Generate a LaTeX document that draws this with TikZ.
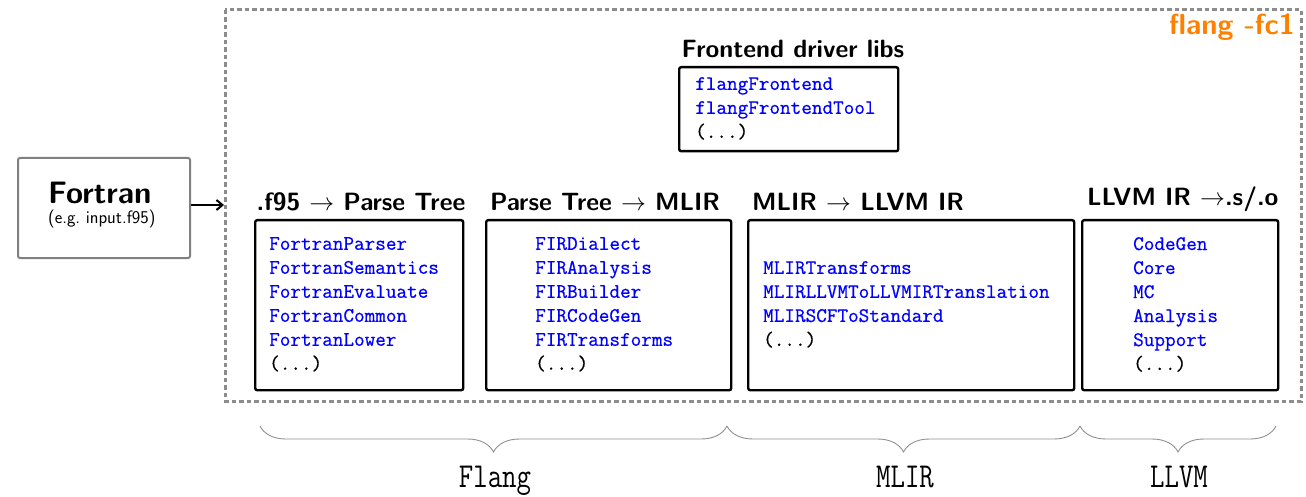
\documentclass[tikz,border=0pt]{standalone}
\usepackage{fontspec}
\usetikzlibrary{decorations.pathreplacing,arrows.meta}
\newfontfamily\libtt{Latin Modern Mono}[FakeBold=0.6]
\definecolor{dashgray}{HTML}{8C8C8C}
\definecolor{fcorange}{HTML}{FF8000}
\definecolor{bracegray}{HTML}{909090}
\tikzset{
  libbox/.style={draw=black, line width=2.4pt, rounded corners=2pt, inner sep=0pt, anchor=north west},
  libtext/.style={anchor=north west, inner sep=0pt, align=left, text=blue, font=\libtt\fontsize{20.6}{24}\selectfont},
  stagetitle/.style={anchor=base, inner sep=0pt, font=\sffamily\bfseries\fontsize{25}{28}\selectfont},
  bracestyle/.style={draw=bracegray, line width=0.9pt, decorate, decoration={brace, mirror, amplitude=26pt}},
  bracelabel/.style={anchor=base, inner sep=0pt, font=\ttfamily\fontsize{28}{30}\selectfont},
}
\begin{document}
\begin{tikzpicture}[x=1pt,y=-1pt]
\useasboundingbox (0,0) rectangle (1306,497);
% outer dashed frame
\draw[dashgray, line width=3pt, dash pattern=on 4.5pt off 3pt] (225,10) rectangle (1301,401);
\node[anchor=base east, inner sep=0pt, text=fcorange, font=\sffamily\bfseries\fontsize{29}{32}\selectfont] (fc1) at (1295,35) {flang -fc1};

% Fortran input
\node[draw=gray, line width=2pt, rounded corners=2pt, minimum width=172pt, minimum height=100pt, anchor=north west] (fortran) at (17,157) {};
\node[anchor=base west, inner sep=0pt, font=\sffamily\bfseries\fontsize{31}{34}\selectfont] (fortranlbl) at (48,204) {Fortran};
\node[anchor=base west, inner sep=0pt, font=\sffamily\fontsize{18}{20}\selectfont] (fortransub) at (48,224) {(e.g.\ input.f95)};
\coordinate (frameleft) at (224,205);
\draw[-{Straight Barb[length=6pt,width=10pt]}, line width=2pt] (fortran.east |- frameleft) -- (frameleft);

% Frontend driver libs
\node[stagetitle] (fdtitle) at (793,58) {Frontend driver libs};
\node[libbox, minimum width=219pt, minimum height=84pt] (fd) at (678,66) {};
\node[libtext] (fdtext) at (695,77) {flangFrontend\\flangFrontendTool\\\textcolor{black}{(...)}};

% Stage boxes
\node[libbox, minimum width=208pt, minimum height=170pt] (b1) at (254,219) {};
\node[libbox, minimum width=245pt, minimum height=170pt] (b2) at (485,219) {};
\node[libbox, minimum width=326pt, minimum height=170pt] (b3) at (747,219) {};
\node[libbox, minimum width=196pt, minimum height=170pt] (b4) at (1081,219) {};

\node[stagetitle] (t1) at (361,211) {.f95 $\rightarrow$ Parse Tree};
\node[stagetitle] (t2) at (605,211) {Parse Tree $\rightarrow$ MLIR};
\node[stagetitle, anchor=base west] (t3) at (752,211) {MLIR $\rightarrow$ LLVM IR};
\node[stagetitle, anchor=base west] (t4) at (1087,206) {LLVM IR $\rightarrow$.s/.o};

\node[libtext] (x1) at (269,237) {FortranParser\\FortranSemantics\\FortranEvaluate\\FortranCommon\\FortranLower\\\textcolor{black}{(...)}};
\node[libtext] (x2) at (535,237) {FIRDialect\\FIRAnalysis\\FIRBuilder\\FIRCodeGen\\FIRTransforms\\\textcolor{black}{(...)}};
\node[libtext] (x3) at (763,261) {MLIRTransforms\\MLIRLLVMToLLVMIRTranslation\\MLIRSCFToStandard\\\textcolor{black}{(...)}};
\node[libtext] (x4) at (1133,237) {CodeGen\\Core\\MC\\Analysis\\Support\\\textcolor{black}{(...)}};

% braces
\coordinate (br0) at (260,426);
\coordinate (br1) at (727,426);
\coordinate (br2) at (1080,426);
\coordinate (br3) at (1276,426);
\draw[bracestyle] (br0) -- (br1);
\draw[bracestyle] (br1) -- (br2);
\draw[bracestyle] (br2) -- (br3);
\node[bracelabel] (lflang) at (495,487) {\scalebox{1}[1.25]{Flang}};
\node[bracelabel] (lmlir) at (905,487) {\scalebox{1}[1.25]{MLIR}};
\node[bracelabel] (lllvm) at (1179,487) {\scalebox{1}[1.25]{LLVM}};
\end{tikzpicture}
\end{document}
